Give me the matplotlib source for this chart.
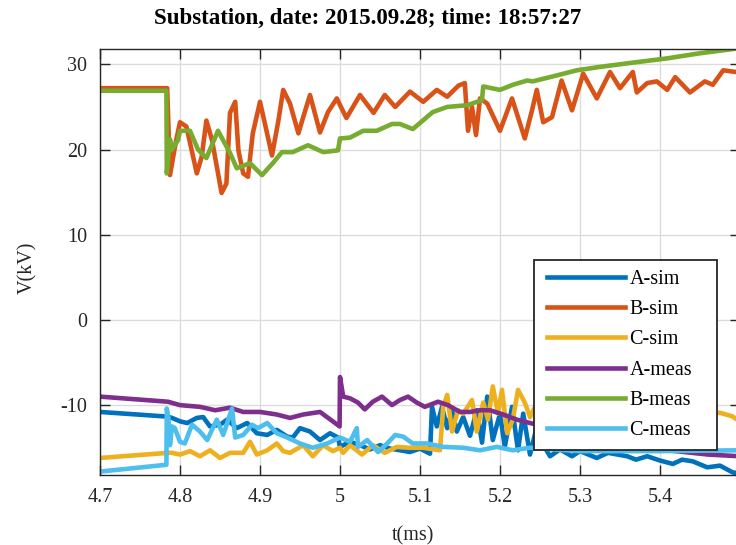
import matplotlib
matplotlib.use('Agg')
import matplotlib.pyplot as plt
from matplotlib.patches import Rectangle

plt.rcParams['font.family'] = ['Liberation Serif', 'DejaVu Serif']

# time axis (ms) and voltages (kV) read from the scope capture
a_sim_t = [4.700, 4.785, 4.790, 4.800, 4.809, 4.821, 4.829, 4.8375, 4.850, 4.859, 4.871, 4.884,
           4.896, 4.909, 4.921, 4.934, 4.941, 4.950, 4.9625, 4.975, 4.9875, 4.9975, 5.000, 5.0125,
           5.025, 5.0375, 5.050, 5.0625, 5.075, 5.0875, 5.100, 5.1125, 5.115, 5.121, 5.1275, 5.134,
           5.140, 5.146, 5.154, 5.1625, 5.171, 5.1775, 5.184, 5.191, 5.200, 5.206, 5.215, 5.2225,
           5.229, 5.2375, 5.245, 5.2525, 5.2625, 5.275, 5.290, 5.300, 5.321, 5.335, 5.359, 5.370,
           5.384, 5.400, 5.416, 5.4275, 5.441, 5.459, 5.475, 5.491, 5.500]
a_sim_v = [-10.8, -11.35, -11.5, -11.9, -12.1, -11.5, -11.4, -12.5, -12.3, -11.7, -12.7, -12.1,
           -13.3, -13.5, -12.9, -13.7, -13.8, -12.7, -13.1, -14.1, -13.3, -13.8, -14.9, -14.3,
           -14.7, -15.2, -14.7, -15.1, -15.3, -15.5, -15.1, -15.7, -10.2, -12.5, -10.2, -12.7,
           -10.6, -13.1, -11.4, -13.6, -10.6, -14.4, -9.0, -14.1, -11.0, -14.9, -10.2, -15.3,
           -11.0, -15.8, -12.9, -14.4, -16.0, -15.2, -16.0, -15.4, -16.2, -15.6, -16.0, -16.4,
           -16.0, -16.5, -16.9, -16.4, -16.6, -17.3, -17.1, -17.9, -18.0]

b_sim_t = [4.700, 4.784, 4.7875, 4.795, 4.800, 4.808, 4.821, 4.827, 4.833, 4.840, 4.852, 4.858,
           4.8625, 4.869, 4.873, 4.879, 4.885, 4.891, 4.900, 4.906, 4.915, 4.923, 4.929, 4.9375,
           4.948, 4.954, 4.9625, 4.975, 4.985, 4.996, 5.008, 5.025, 5.042, 5.056, 5.069, 5.0875,
           5.104, 5.121, 5.134, 5.148, 5.156, 5.160, 5.165, 5.170, 5.175, 5.184, 5.200, 5.215,
           5.231, 5.240, 5.246, 5.254, 5.265, 5.277, 5.290, 5.304, 5.321, 5.3375, 5.350, 5.366,
           5.371, 5.384, 5.396, 5.409, 5.419, 5.4375, 5.456, 5.466, 5.479, 5.495, 5.500]
b_sim_v = [27.2, 27.2, 17.0, 21.0, 23.2, 22.7, 17.2, 19.1, 23.4, 21.1, 14.9, 16.0,
           24.3, 25.6, 19.9, 17.2, 16.8, 21.9, 25.6, 23.1, 19.3, 23.4, 27.0, 25.4,
           21.9, 23.8, 26.4, 22.0, 24.4, 26.0, 23.7, 26.4, 24.3, 26.4, 25.0, 26.8,
           25.6, 27.0, 26.2, 27.5, 27.8, 22.2, 25.0, 21.7, 26.0, 25.4, 22.2, 26.0,
           21.3, 24.6, 27.0, 23.2, 23.8, 28.1, 24.6, 28.9, 26.0, 29.1, 27.2, 29.1,
           26.7, 27.8, 28.0, 27.0, 28.5, 26.7, 28.0, 27.6, 29.3, 29.1, 29.0]

c_sim_t = [4.700, 4.785, 4.790, 4.800, 4.8125, 4.825, 4.8375, 4.850, 4.8625, 4.879, 4.8875, 4.896,
           4.909, 4.921, 4.929, 4.9375, 4.954, 4.966, 4.979, 4.991, 5.000, 5.004, 5.0125, 5.0275,
           5.041, 5.056, 5.071, 5.0875, 5.104, 5.125, 5.129, 5.134, 5.140, 5.1475, 5.154, 5.165,
           5.171, 5.179, 5.185, 5.191, 5.1975, 5.2025, 5.209, 5.216, 5.2225, 5.231, 5.2375, 5.245,
           5.260, 5.270, 5.300, 5.350, 5.400, 5.440, 5.460, 5.475, 5.490, 5.500]
c_sim_v = [-16.2, -15.6, -15.6, -15.8, -15.4, -16.0, -15.3, -16.2, -15.6, -15.6, -14.3, -15.8,
           -15.3, -14.5, -15.4, -15.6, -14.7, -16.0, -14.7, -15.4, -15.0, -15.6, -14.7, -15.8,
           -14.7, -15.6, -14.9, -15.0, -15.0, -15.3, -10.2, -8.8, -13.1, -10.6, -11.0, -9.4,
           -13.1, -9.7, -11.7, -7.8, -11.0, -8.2, -13.3, -11.7, -8.2, -9.7, -11.4, -10.0,
           -12.5, -10.0, -12.0, -11.0, -11.8, -11.2, -11.0, -10.9, -11.3, -11.9]

a_meas_t = [4.700, 4.785, 4.800, 4.825, 4.844, 4.8625, 4.879, 4.900, 4.921, 4.9375, 4.954, 4.975,
            4.991, 4.9995, 5.000, 5.004, 5.0125, 5.0225, 5.031, 5.041, 5.0525, 5.065, 5.075, 5.085,
            5.096, 5.106, 5.1225, 5.135, 5.150, 5.1625, 5.175, 5.1875, 5.204, 5.221, 5.2375, 5.300,
            5.400, 5.460, 5.500]
a_meas_v = [-9.0, -9.6, -10.0, -10.2, -10.6, -10.3, -10.8, -10.8, -11.1, -11.5, -11.1, -10.8,
            -11.9, -12.5, -6.7, -9.0, -9.2, -9.7, -10.5, -9.6, -9.0, -10.0, -9.4, -9.0,
            -9.7, -10.2, -9.6, -10.0, -10.8, -10.8, -10.6, -10.6, -11.1, -11.7, -12.1, -13.5,
            -15.2, -15.8, -16.0]

b_meas_t = [4.700, 4.783, 4.7835, 4.7875, 4.790, 4.7975, 4.800, 4.8125, 4.8225, 4.833, 4.8475, 4.8625,
            4.871, 4.8875, 4.9025, 4.916, 4.9275, 4.941, 4.960, 4.979, 4.9975, 5.000, 5.0125, 5.029,
            5.046, 5.065, 5.075, 5.091, 5.116, 5.134, 5.159, 5.1775, 5.179, 5.200, 5.216, 5.234,
            5.241, 5.271, 5.296, 5.325, 5.366, 5.409, 5.450, 5.500]
b_meas_v = [26.9, 26.9, 17.2, 21.2, 20.0, 21.1, 22.2, 22.2, 20.0, 19.0, 22.2, 19.6,
            17.8, 18.4, 17.0, 18.4, 19.7, 19.7, 20.5, 19.7, 19.9, 21.3, 21.4, 22.2,
            22.2, 23.0, 23.0, 22.4, 24.4, 25.0, 25.2, 25.8, 27.4, 27.0, 27.6, 28.1,
            28.0, 28.7, 29.3, 29.7, 30.2, 30.7, 31.3, 31.9]

c_meas_t = [4.700, 4.783, 4.7835, 4.7855, 4.7875, 4.790, 4.7935, 4.800, 4.806, 4.815, 4.825, 4.834,
            4.846, 4.854, 4.865, 4.869, 4.879, 4.890, 4.8975, 4.909, 4.921, 4.934, 4.950, 4.966,
            4.984, 5.000, 5.0125, 5.021, 5.0225, 5.034, 5.0475, 5.059, 5.069, 5.079, 5.091, 5.109,
            5.129, 5.154, 5.175, 5.196, 5.216, 5.2375, 5.300, 5.400, 5.500]
c_meas_v = [-17.8, -17.0, -10.4, -11.5, -14.7, -12.5, -12.7, -14.3, -14.5, -12.3, -13.1, -14.1,
            -11.7, -13.5, -10.4, -13.8, -13.5, -12.3, -12.7, -12.1, -13.3, -13.8, -14.5, -15.0,
            -14.5, -13.8, -14.3, -12.7, -14.9, -14.1, -15.5, -14.5, -13.5, -13.7, -14.5, -14.5,
            -14.9, -15.0, -15.3, -14.9, -15.3, -15.0, -15.4, -15.4, -15.3]

names = ['A-sim', 'B-sim', 'C-sim', 'A-meas', 'B-meas', 'C-meas']
colors = ['#0072BD', '#D95319', '#EDB120', '#7E2F8E', '#77AC30', '#4DBEEE']
x_ticks = [4.7, 4.8, 4.9, 5.0, 5.1, 5.2, 5.3, 5.4]
x_labels = ['4.7', '4.8', '4.9', '5', '5.1', '5.2', '5.3', '5.4']
y_ticks = [-10, 0, 10, 20, 30]
y_labels = ['-10', '0', '10', '20', '30']

W, H = 736, 545
fig = plt.figure(figsize=(W / 100, H / 100), dpi=100)
ax = fig.add_axes([100 / W, 70 / H, 640 / W, 426 / H])

series = [(a_sim_t, a_sim_v), (b_sim_t, b_sim_v), (c_sim_t, c_sim_v),
          (a_meas_t, a_meas_v), (b_meas_t, b_meas_v), (c_meas_t, c_meas_v)]
for (t, v), c, name in zip(series, colors, names):
    ax.plot(t, v, color=c, lw=3.3, label=name)

ax.set_xlim(4.7, 5.5)
ax.set_ylim(-18.2, 31.8)
ax.set_xticks(x_ticks)
ax.set_xticklabels(x_labels)
ax.set_yticks(y_ticks)
ax.set_yticklabels(y_labels)
ax.grid(True, color='#dcdcdc', lw=1)
ax.set_axisbelow(True)
ax.tick_params(direction='in', length=7, width=1, top=True, right=True,
               labelsize=14.5, pad=9, colors='#262626')
for s in ax.spines.values():
    s.set_color('#262626')
    s.set_linewidth(1)

# MATLAB-style legend box: white frame drawn by hand, entries on top of it
box = Rectangle((534 / W, 1 - 450 / H), 183 / W, 190 / H, transform=fig.transFigure,
                facecolor='white', edgecolor='#262626', lw=1.3, zorder=4)
ax.add_patch(box)
leg = ax.legend(loc='upper left', bbox_to_anchor=(547 / W, 1 - 270 / H),
                bbox_transform=fig.transFigure, frameon=False, fontsize=14.5,
                handlelength=3.85, handletextpad=0.25, labelspacing=0.55,
                borderpad=0, borderaxespad=0)
leg.set_zorder(5)

fig.text(0.5, 1 - 18 / H, 'Substation, date: 2015.09.28; time: 18:57:27',
         ha='center', va='center', fontweight='bold', fontsize=16.5)
fig.text(413 / W, 1 - 536 / H, 't(ms)', ha='center', va='center', fontsize=14.5, color='#262626')
fig.text(28 / W, 1 - 268 / H, 'V(kV)', ha='center', va='center', rotation=90,
         fontsize=14.5, color='#262626')

fig.savefig('out.png', dpi=100)
